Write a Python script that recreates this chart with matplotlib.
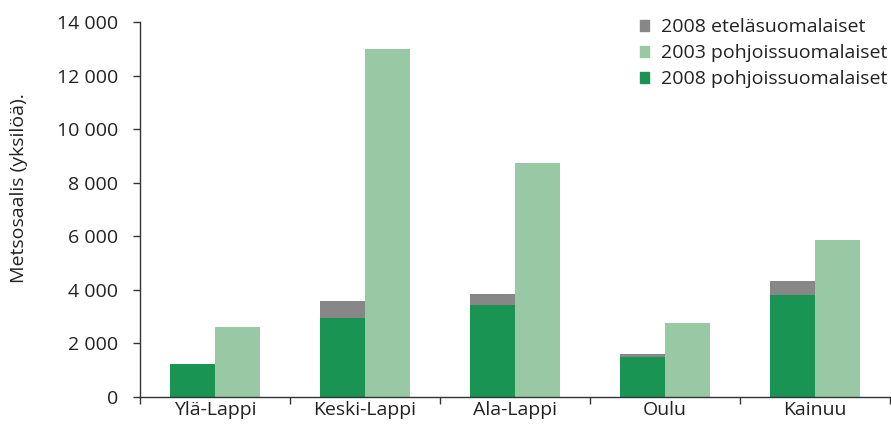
import numpy as np
import matplotlib
matplotlib.use('Agg')
import matplotlib.pyplot as plt
from matplotlib.patches import Patch
from matplotlib.ticker import FuncFormatter

plt.rcParams['font.family'] = ['Open Sans', 'DejaVu Sans']

# data
regions = ['Ylä-Lappi', 'Keski-Lappi', 'Ala-Lappi', 'Oulu', 'Kainuu']
north_2008 = [1220, 2960, 3420, 1500, 3790]
south_2008 = [0, 630, 410, 100, 550]
north_2003 = [2625, 13000, 8750, 2760, 5880]
yticks = [0, 2000, 4000, 6000, 8000, 10000, 12000, 14000]

c_dark = '#1a9452'
c_light = '#98c9a4'
c_gray = '#878787'
txt = '#222222'

fig = plt.figure(figsize=(8.91, 4.25), dpi=100)
ax = fig.add_axes([0.157, 0.066, 0.842, 0.882])

x = np.arange(len(regions))
w = 0.3
ax.bar(x - w/2, north_2008, width=w, color=c_dark, linewidth=0)
ax.bar(x - w/2, south_2008, width=w, bottom=north_2008, color=c_gray, linewidth=0)
ax.bar(x + w/2, north_2003, width=w, color=c_light, linewidth=0)

ax.set_xlim(-0.5, len(regions) - 0.5)
ax.set_ylim(0, 14000)
ax.set_yticks(yticks)
ax.yaxis.set_major_formatter(FuncFormatter(lambda v, p: '{:,}'.format(int(v)).replace(',', ' ')))

# labels at centres, tick marks at the category boundaries
ax.set_xticks(x)
ax.set_xticklabels(regions)
ax.set_xticks(np.arange(len(regions) + 1) - 0.5, minor=True)
ax.tick_params(axis='x', which='major', length=0, pad=3, labelsize=14, labelcolor=txt)
ax.tick_params(axis='x', which='minor', length=5, width=1, color='#333333', direction='out')
ax.tick_params(axis='y', length=5, width=1, color='#333333', pad=10.5, labelsize=14, labelcolor=txt)

for s in ['top', 'right']:
    ax.spines[s].set_visible(False)
for s in ['left', 'bottom']:
    ax.spines[s].set_color('#333333')
    ax.spines[s].set_linewidth(1)

fig.text(19 / 891, 1 - 188 / 425, 'Metsosaalis (yksilöä).', rotation=90,
         ha='center', va='center', fontsize=14, color=txt)

handles = [Patch(color=c_gray, label='2008 eteläsuomalaiset'),
           Patch(color=c_light, label='2003 pohjoissuomalaiset'),
           Patch(color=c_dark, label='2008 pohjoissuomalaiset')]
ax.legend(handles=handles, loc='upper right', bbox_to_anchor=(1.012, 1.042), frameon=False,
          fontsize=14, handlelength=0.5, handleheight=0.5, handletextpad=0.6,
          labelspacing=0.42, labelcolor=txt, borderaxespad=0.2)

fig.savefig('out.png', dpi=100)
